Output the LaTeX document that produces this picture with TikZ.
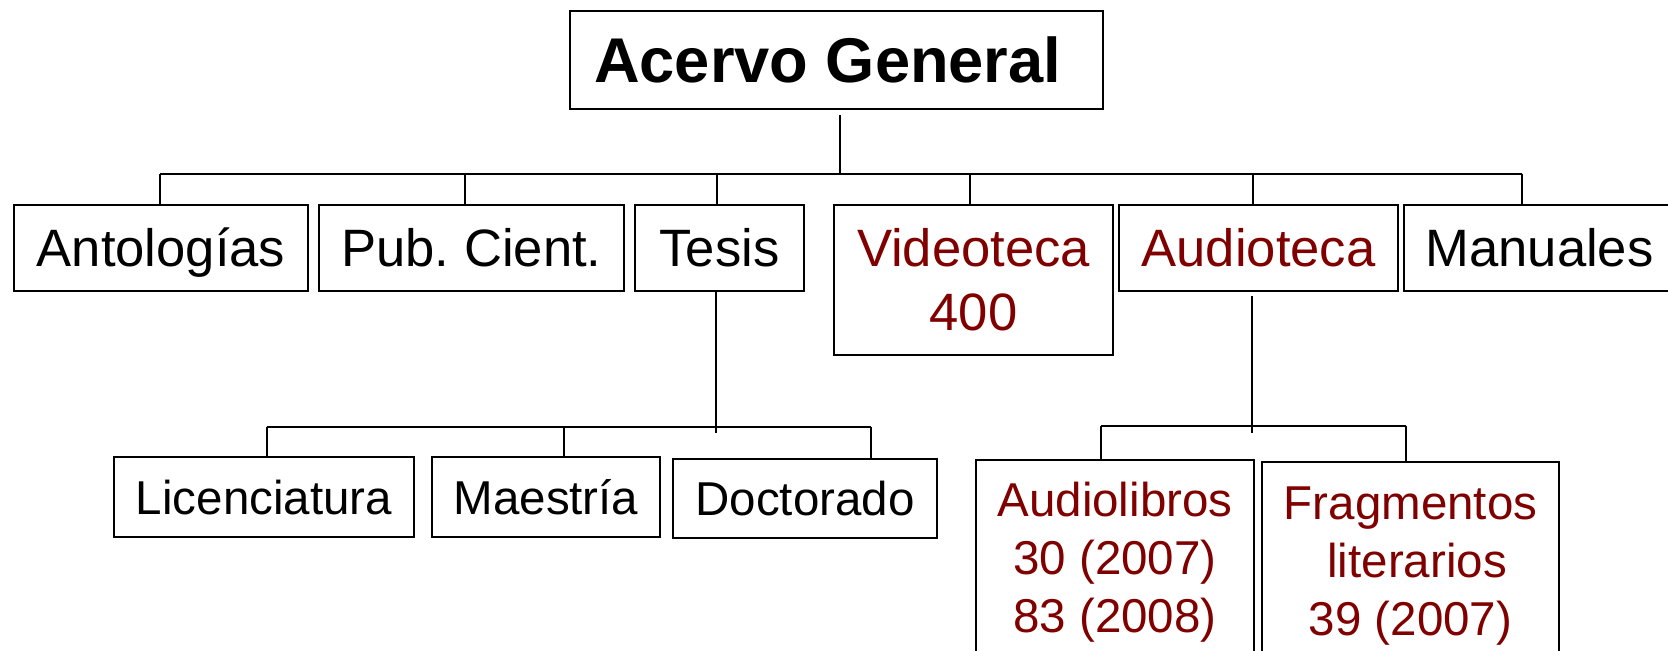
\documentclass[tikz,border=0pt]{standalone}
\usepackage{fontspec}
\setmainfont{Liberation Sans}
\definecolor{rojo}{RGB}{128,0,0}
\begin{document}
\begin{tikzpicture}[x=0.5pt,y=-0.5pt,line width=0.85pt,
		caja/.style={draw,line width=0.85pt,inner sep=0pt,align=center},
		nivel1/.style={caja,font=\fontsize{26.3pt}{32pt}\selectfont,minimum height=43pt},
		nivel2/.style={caja,font=\fontsize{23.75pt}{29pt}\selectfont,minimum height=40pt},
		linea1/.style={text height=18.8pt,text depth=0pt},
		linea2/.style={text height=17pt,text depth=0pt},
		rojotxt/.style={text=rojo}]
		\useasboundingbox (0,0) rectangle (1668,651);
		\clip (0,0) rectangle (1668,651);
		
		\node[caja,font=\fontsize{31.6pt}{38pt}\selectfont\bfseries,text height=22.6pt,text depth=0pt,minimum width=266.5pt,minimum height=49pt] at (836.5,60) (raiz) {Acervo General~};
		
		\node[nivel1,linea1,minimum width=146.75pt] at (161,248) (anto) {Antologías};
		\node[nivel1,linea1,minimum width=152.5pt] at (471.5,248) (pub) {Pub.\ Cient.};
		\node[nivel1,linea1,minimum width=84.5pt] at (719.5,248) (tesis) {Tesis};
		\node[nivel1,rojotxt,minimum width=139.5pt,minimum height=75pt] at (973.5,280) (video) {Videoteca\\400};
		\node[nivel1,linea1,rojotxt,minimum width=139.5pt] at (1258.5,248) (audio) {Audioteca};
		\node[nivel1,linea1,minimum width=135.5pt] at (1539.5,248) (manu) {Manuales};
		
		\node[nivel2,linea2,minimum width=149.75pt] at (264,497) (lic) {Licenciatura};
		\node[nivel2,linea2,minimum width=113.75pt] at (546,497) (mae) {Maestría};
		\node[nivel2,linea2,minimum width=131.75pt,minimum height=39.5pt] at (805,498.5) (doc) {Doctorado};
		
		\node[nivel2,rojotxt,minimum width=139pt,minimum height=102.5pt] at (1115,562.5) (alib) {Audiolibros\\30 (2007)\\83 (2008)};
		\node[nivel2,rojotxt,minimum width=148.5pt,minimum height=104pt] at (1410.5,566) (frag) {Fragmentos\\~literarios\\39 (2007)};
		
		% Acervo General
		\coordinate (b0) at (840,174);
		\coordinate (b1) at (160,174);
		\coordinate (b2) at (465,174);
		\coordinate (b3) at (717,174);
		\coordinate (b4) at (970,174);
		\coordinate (b5) at (1253,174);
		\coordinate (b6) at (1522,174);
		\draw ([yshift=-2.5pt]b0 |- raiz.south) -- (b0);
		\draw (b1) -- (b6);
		\foreach \b/\n in {b1/anto,b2/pub,b3/tesis,b4/video,b5/audio,b6/manu}
			\draw (\b) -- (\b |- \n.north);
		
		% Tesis
		\coordinate (t0) at (716,433);
		\coordinate (t1) at (267,427);
		\coordinate (t2) at (564,427);
		\coordinate (t3) at (871,427);
		\draw (t0 |- tesis.south) -- (t0);
		\draw (t1) -- (t3);
		\draw (t1) -- (t1 |- lic.north);
		\draw (t2) -- (t2 |- mae.north);
		\draw (t3) -- (t3 |- doc.north);
		
		% Audioteca
		\coordinate (a0) at (1252,433);
		\coordinate (a1) at (1101,426);
		\coordinate (a2) at (1406,426);
		\draw ([yshift=-2pt]a0 |- audio.south) -- (a0);
		\draw (a1) -- (a2);
		\draw (a1) -- (a1 |- alib.north);
		\draw (a2) -- (a2 |- frag.north);
\end{tikzpicture}
\end{document}
